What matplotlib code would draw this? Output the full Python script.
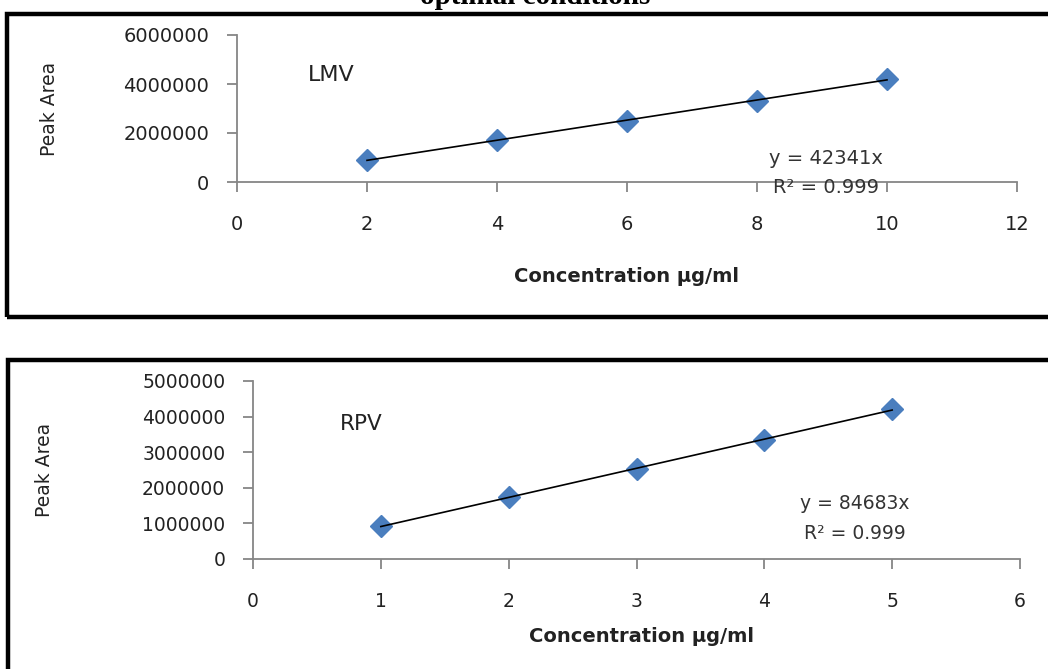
import numpy as np
import matplotlib
matplotlib.use("Agg")
import matplotlib.pyplot as plt
from matplotlib.patches import Rectangle

# Calibration data
lmv_conc = [2, 4, 6, 8, 10]
lmv_area = [900000, 1710000, 2500000, 3320000, 4200000]
rpv_conc = [1, 2, 3, 4, 5]
rpv_area = [920000, 1740000, 2530000, 3340000, 4210000]

lmv_eq = "y = 42341x"
rpv_eq = "y = 84683x"
r2_text = "R² = 0.999"

W, H = 1048, 669
AX_GRAY = "#868686"
MARK_BLUE = "#4A7EBE"


def px_box(left, top, right, bottom):
    """pixel box -> figure fraction [l, b, w, h]"""
    return [left / W, 1 - bottom / H, (right - left) / W, (bottom - top) / H]


def style_axes(ax, tick_fs):
    for s in ("top", "right"):
        ax.spines[s].set_visible(False)
    for s in ("left", "bottom"):
        ax.spines[s].set_color(AX_GRAY)
        ax.spines[s].set_linewidth(1.3)
    ax.tick_params(axis="both", direction="out", color=AX_GRAY, width=1.3,
                   length=7, labelsize=tick_fs, labelcolor="#222222")
    ax.tick_params(axis="y", pad=13)
    ax.tick_params(axis="x", pad=17)


def draw_panel(ax, conc, area, xmax, ymax, ystep, tick_fs, name, name_xy,
               eq, eq_xy, xlab_xy, ylab_xy):
    ax.plot(conc, area, linestyle="none", marker="D", markersize=11.5,
            color=MARK_BLUE, zorder=3, clip_on=False)
    fit = np.polyfit(conc, area, 1)
    xs = np.array([min(conc), max(conc)])
    ax.plot(xs, np.polyval(fit, xs), color="black", linewidth=1.2, zorder=4)

    ax.set_xlim(0, xmax)
    ax.set_ylim(0, ymax)
    ax.set_xticks(np.arange(0, xmax + 1, 2 if xmax > 6 else 1))
    ax.set_yticks(np.arange(0, ymax + 1, ystep))
    ax.yaxis.set_major_formatter(plt.FuncFormatter(lambda v, p: f"{int(v)}"))
    style_axes(ax, tick_fs)

    ax.text(name_xy[0], name_xy[1], name, fontsize=tick_fs + 2,
            color="#222222", va="center", ha="left")
    ax.text(eq_xy[0], eq_xy[1], eq + "\n" + r2_text, fontsize=tick_fs,
            color="#333333", ha="center", va="center", linespacing=1.7,
            transform=ax.transAxes, zorder=5)

    ax.set_xlabel("Concentration µg/ml", fontsize=14, fontweight="bold",
                  color="#222222")
    ax.xaxis.set_label_coords(*xlab_xy)
    ax.xaxis.label.set_va("center")
    ax.set_ylabel("Peak Area", fontsize=13.5, color="#222222")
    ax.yaxis.set_label_coords(*ylab_xy)
    ax.yaxis.label.set_va("center")


def main():
    fig = plt.figure(figsize=(W / 100, H / 100), dpi=100)

    # heading that is cut off at the very top, as in the source page
    fig.text(535 / W, 1 - 4 / H, "optimal conditions", ha="center",
             va="baseline", fontsize=21, fontweight="bold",
             family="Liberation Serif")

    # thick outer frames of both chart boxes
    fig.patches.append(Rectangle((7 / W, 1 - 317 / H), 1.1, 303 / H,
                                 transform=fig.transFigure, fill=False,
                                 edgecolor="black", linewidth=3.2))
    fig.patches.append(Rectangle((8 / W, -0.1), 1.1, 0.1 + 1 - 360 / H,
                                 transform=fig.transFigure, fill=False,
                                 edgecolor="black", linewidth=3.2))

    ax1 = fig.add_axes(px_box(237, 35, 1017, 182))
    draw_panel(ax1, lmv_conc, lmv_area, 12, 6000000, 2000000, 14,
               "LMV", (1.09, 4370000), lmv_eq, (0.755, 0.06),
               (0.50, -0.646), (-0.24, 0.5))

    ax2 = fig.add_axes(px_box(253, 381, 1020, 559))
    draw_panel(ax2, rpv_conc, rpv_area, 6, 5000000, 1000000, 13.5,
               "RPV", (0.68, 3790000), rpv_eq, (0.785, 0.228),
               (0.506, -0.438), (-0.272, 0.5))

    fig.savefig("out.png", dpi=100)
    plt.close(fig)


if __name__ == "__main__":
    main()
